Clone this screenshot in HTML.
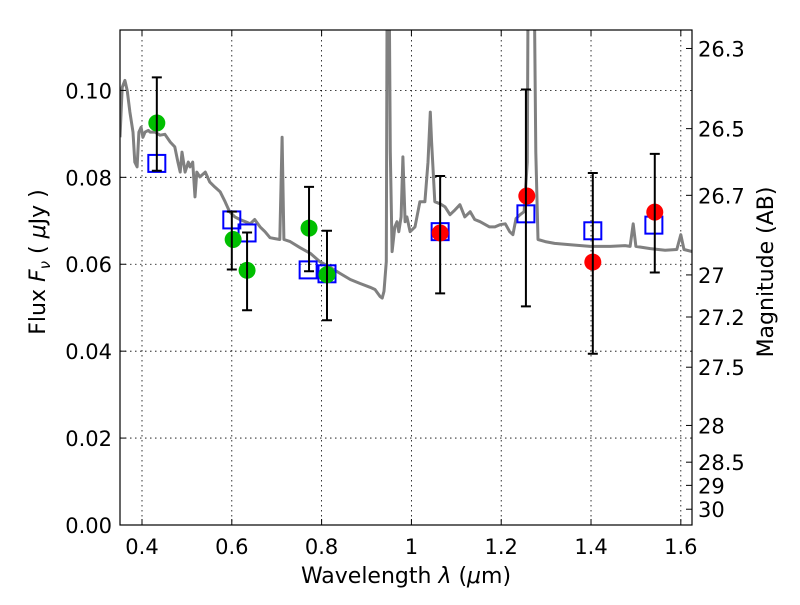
<!DOCTYPE html>
<html><head><meta charset="utf-8"><style>
body{margin:0;background:#fff;}
svg text{font-family:"DejaVu Sans","Liberation Sans",sans-serif;fill:#000;}
</style></head><body>
<svg id="chart" width="800" height="600" viewBox="0 0 800 600" xmlns="http://www.w3.org/2000/svg">
<defs><clipPath id="clip"><rect x="120" y="30" width="572" height="495"/></clipPath></defs>
<rect x="0" y="0" width="800" height="600" fill="#fff"/>
<g id="grid"></g>
<g id="marks" clip-path="url(#clip)"></g>
<g id="errs"></g>
<rect x="120" y="30" width="572" height="495" fill="none" stroke="#000" stroke-width="1.2"/>
<g id="axes"></g>
<text x="406" y="583" font-size="22" text-anchor="middle">Wavelength  <tspan font-style="italic">λ</tspan> (<tspan font-style="italic">μ</tspan>m)</text>
<text transform="translate(45,262) rotate(-90)" font-size="22" text-anchor="middle">Flux  <tspan font-style="italic">F</tspan><tspan font-style="italic" font-size="15" dy="5">ν</tspan><tspan dy="-5"> (  </tspan><tspan font-style="italic">μ</tspan>Jy )</text>
<text transform="translate(773,272) rotate(-90)" font-size="22" text-anchor="middle">Magnitude (AB)</text>
</svg>
<script>
const xTicks=[0.4,0.6,0.8,1,1.2,1.4,1.6];
const xTickLabels=["0.4","0.6","0.8","1","1.2","1.4","1.6"];
const yTicks=[0,0.02,0.04,0.06,0.08,0.10];
const yTickLabels=["0.00","0.02","0.04","0.06","0.08","0.10"];
const magTicks=[26.3,26.5,26.7,27,27.2,27.5,28,28.5,29,30];
const magTickLabels=["26.3","26.5","26.7","27","27.2","27.5","28","28.5","29","30"];
const specWave=[0.351,0.356,0.362,0.367,0.373,0.380,0.384,0.389,0.393,0.398,0.402,0.407,0.414,0.418,0.429,0.440,0.451,0.463,0.473,0.480,0.485,0.489,0.496,0.503,0.507,0.513,0.518,0.522,0.529,0.541,0.551,0.562,0.574,0.585,0.595,0.607,0.618,0.630,0.641,0.651,0.663,0.674,0.685,0.696,0.707,0.712,0.716,0.730,0.752,0.775,0.796,0.819,0.841,0.864,0.885,0.908,0.919,0.930,0.935,0.939,0.944,0.946,0.950,0.953,0.957,0.963,0.968,0.972,0.977,0.981,0.986,0.990,0.997,1.008,1.019,1.030,1.037,1.042,1.045,1.052,1.064,1.075,1.086,1.097,1.108,1.119,1.131,1.141,1.153,1.174,1.186,1.197,1.209,1.219,1.226,1.233,1.242,1.251,1.258,1.260,1.273,1.277,1.282,1.298,1.319,1.354,1.398,1.443,1.476,1.487,1.494,1.500,1.532,1.565,1.591,1.600,1.607,1.625];
const specFlux=[0.0892,0.1007,0.1023,0.1000,0.0950,0.0904,0.0835,0.0824,0.0904,0.0915,0.0892,0.0904,0.0908,0.0904,0.0904,0.0897,0.0899,0.0881,0.0870,0.0835,0.0812,0.0858,0.0812,0.0835,0.0824,0.0835,0.0755,0.0812,0.0801,0.0812,0.0789,0.0778,0.0767,0.0744,0.0721,0.0709,0.0703,0.0698,0.0693,0.0703,0.0686,0.0675,0.0661,0.0659,0.0657,0.0892,0.0657,0.0652,0.0638,0.0625,0.0606,0.0593,0.0579,0.0565,0.0556,0.0547,0.0542,0.0526,0.0522,0.0538,0.0606,0.13,0.13,0.0858,0.0629,0.0686,0.0698,0.0675,0.0709,0.0847,0.0698,0.0709,0.0675,0.0686,0.0744,0.0744,0.0835,0.0950,0.0881,0.0744,0.0739,0.0732,0.0714,0.0725,0.0737,0.0709,0.0721,0.0703,0.0698,0.0686,0.0686,0.0691,0.0693,0.0675,0.0668,0.0705,0.0714,0.0721,0.0835,0.13,0.13,0.0858,0.0657,0.0652,0.0648,0.0645,0.0641,0.0641,0.0643,0.0641,0.0693,0.0641,0.0636,0.0632,0.0634,0.0668,0.0634,0.0629];
const modelWave=[0.433,0.600,0.634,0.770,0.812,1.064,1.255,1.404,1.540];
const modelFlux=[0.0832,0.0702,0.0672,0.0587,0.0578,0.0675,0.0716,0.0677,0.0690];
const greenWave=[0.433,0.603,0.634,0.772,0.812];
const greenFlux=[0.0925,0.0657,0.0586,0.0683,0.0576];
const redWave=[1.064,1.257,1.404,1.542];
const redFlux=[0.0672,0.0757,0.0605,0.0720];
const errWave=[0.433,0.600,0.634,0.772,0.812,1.064,1.255,1.404,1.542];
const errHigh=[0.103,0.0721,0.0673,0.0778,0.0677,0.0803,0.1002,0.081,0.0854];
const errLow=[0.0815,0.0588,0.0494,0.0584,0.0471,0.0533,0.0503,0.0394,0.0581];

const X0=120,X1=692,Y0=525,Y1=30,XMIN=0.351,XMAX=1.6249,YMIN=0,YMAX=0.1139;
const sx=v=>X0+(v-XMIN)/(XMAX-XMIN)*(X1-X0);
const sy=v=>Y0-(v-YMIN)/(YMAX-YMIN)*(Y0-Y1);
const magToFlux=m=>Math.pow(10,(23.9-m)/2.5);
const NS='http://www.w3.org/2000/svg';
function mk(tag,attrs,parent){const e=document.createElementNS(NS,tag);for(const k in attrs)e.setAttribute(k,attrs[k]);parent.appendChild(e);return e;}
const grid=document.getElementById('grid'),marks=document.getElementById('marks'),errs=document.getElementById('errs'),axes=document.getElementById('axes');

xTicks.forEach((t,i)=>{const x=sx(t);
 const g=mk('line',{x1:x,x2:x,y1:Y1,y2:Y0,stroke:'#000','stroke-width':0.8,'stroke-dasharray':'1.5,3.5'},grid);
 
 const tk=mk('line',{x1:x,x2:x,y1:Y0,y2:Y0-6,stroke:'#000','stroke-width':1},axes);
 
 const tk2=mk('line',{x1:x,x2:x,y1:Y1,y2:Y1+6,stroke:'#000','stroke-width':1},axes);
 
 const tx=mk('text',{x:x,y:554,'font-size':21,'text-anchor':'middle'},axes);tx.textContent=xTickLabels[i];
 });
yTicks.forEach((t,i)=>{const y=sy(t);
 const g=mk('line',{x1:X0,x2:X1,y1:y,y2:y,stroke:'#000','stroke-width':0.8,'stroke-dasharray':'1.5,3.5'},grid);
 
 const tk=mk('line',{x1:X0,x2:X0+6,y1:y,y2:y,stroke:'#000','stroke-width':1},axes);
 
 const tx=mk('text',{x:112,y:y+8,'font-size':21,'text-anchor':'end'},axes);tx.textContent=yTickLabels[i];
 });
magTicks.forEach((m,i)=>{const y=sy(magToFlux(m));
 const tk=mk('line',{x1:X1,x2:X1-6,y1:y,y2:y,stroke:'#000','stroke-width':1},axes);
 
 const tx=mk('text',{x:698,y:y+8,'font-size':21,'text-anchor':'start'},axes);tx.textContent=magTickLabels[i];
 });

const pts=specWave.map((w,i)=>sx(w).toFixed(1)+','+sy(specFlux[i]).toFixed(1)).join(' ');
const sp=mk('polyline',{points:pts,fill:'none',stroke:'#808080','stroke-width':3,'stroke-linejoin':'round'},marks);

modelWave.forEach((w,i)=>{const s=mk('rect',{x:sx(w)-8.5,y:sy(modelFlux[i])-8.5,width:17,height:17,fill:'none',stroke:'#0000ff','stroke-width':2},marks);
 });
greenWave.forEach((w,i)=>{const c=mk('circle',{cx:sx(w),cy:sy(greenFlux[i]),r:8.5,fill:'#00bf00'},marks);
 });
redWave.forEach((w,i)=>{const c=mk('circle',{cx:sx(w),cy:sy(redFlux[i]),r:8.5,fill:'#ff0000'},marks);
 });
errWave.forEach((w,i)=>{const x=sx(w),a=sy(errHigh[i]),b=sy(errLow[i]);
 const e=mk('path',{d:`M${x},${a}V${b}M${x-5},${a}H${x+5}M${x-5},${b}H${x+5}`,stroke:'#000','stroke-width':2,fill:'none'},errs);
 });
</script>
</body></html>
